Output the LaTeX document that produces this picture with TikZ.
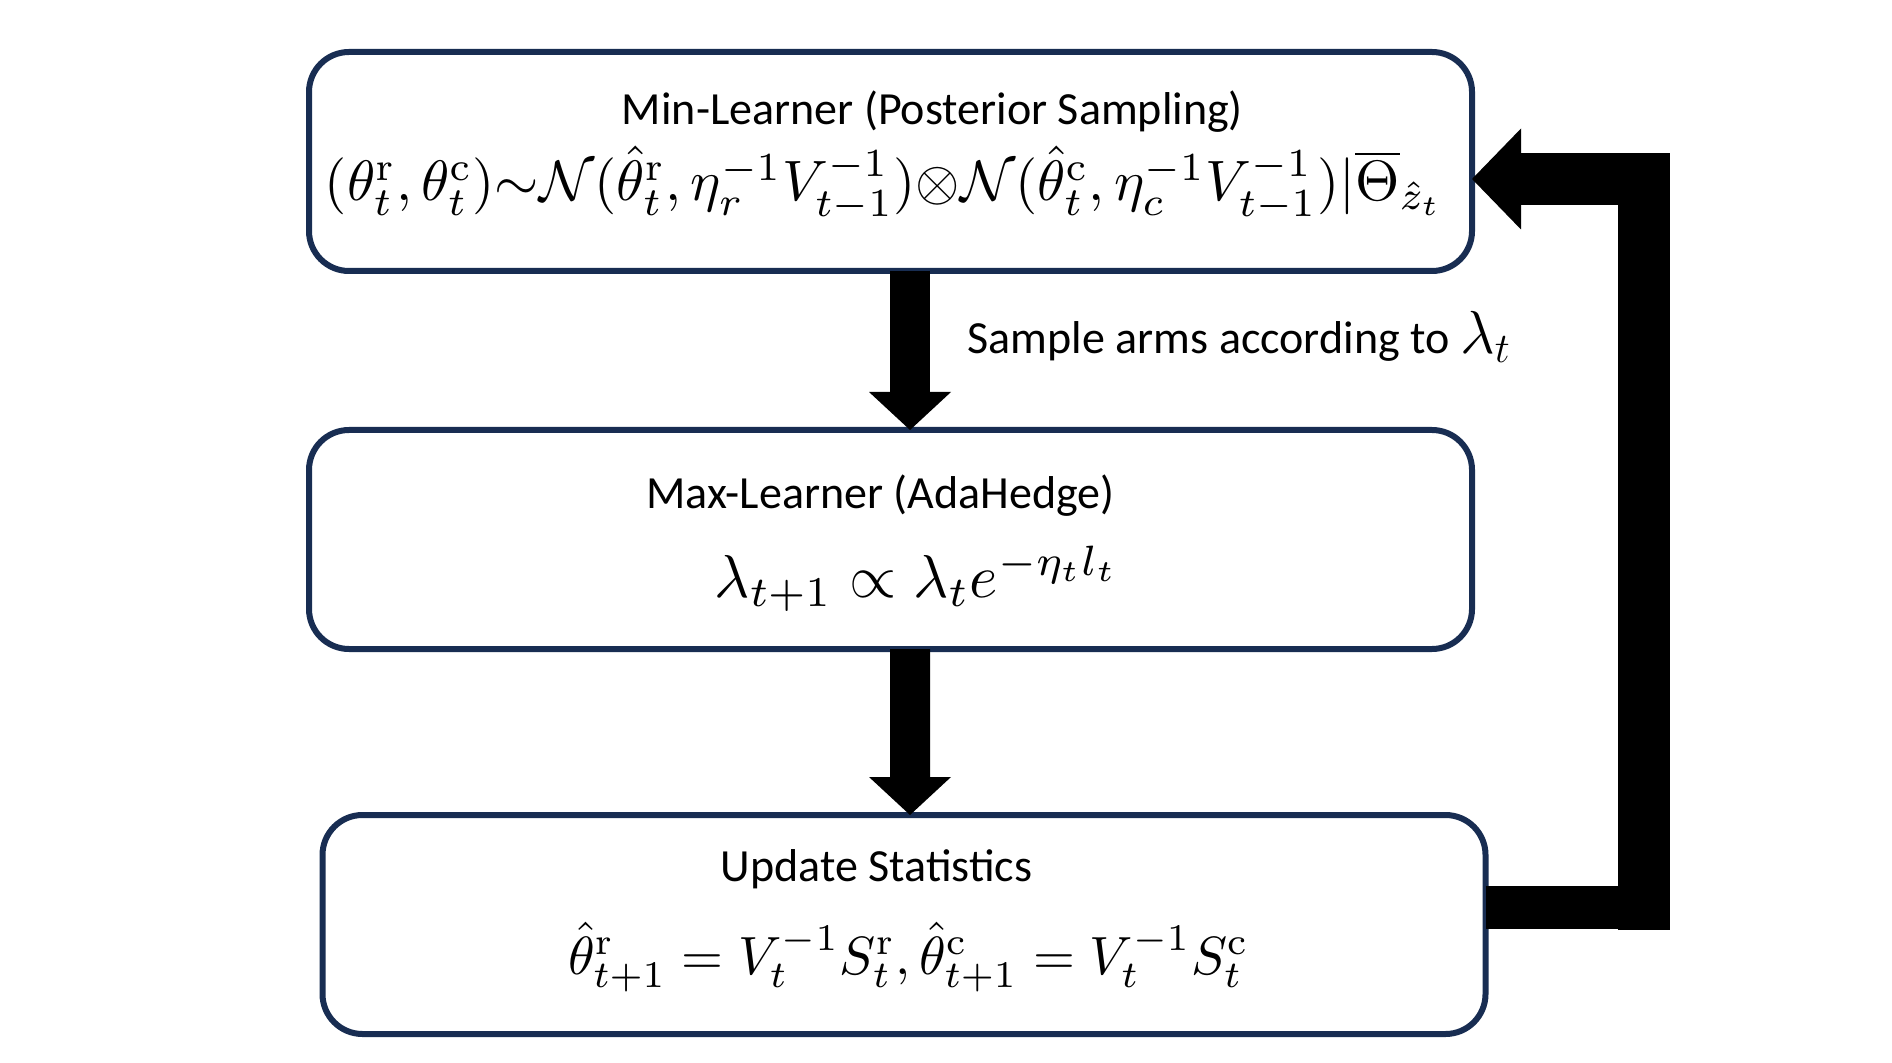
\documentclass[tikz,border=0pt]{standalone}
\usepackage{amsmath}
\usepackage{amssymb}
\usepackage{graphicx}
\usepackage[no-math]{fontspec}
\setmainfont{Carlito}
\usepackage{tikz}
\usetikzlibrary{arrows.meta,positioning,calc}
\definecolor{navy}{RGB}{24,45,82}
\tikzstyle{box} = [rectangle, draw=navy, line width=0.06cm, rounded corners=0.4cm, inner sep=0pt, outer sep=0pt, minimum width=11.63cm, minimum height=2.19cm]
\tikzstyle{title} = [anchor=base, inner sep=0pt, font=\fontsize{13.1}{15}\selectfont]
\tikzstyle{formula} = [anchor=base, inner sep=0pt]
\tikzstyle{flow} = [draw, line width=0.40cm, -{Triangle[width=0.82cm,length=0.38cm,line width=0pt]}]
\tikzstyle{feedback} = [draw, line width=0.52cm, -{Triangle[width=1.01cm,length=0.49cm,line width=0pt]}]

\begin{document}
\begin{tikzpicture}[node distance=0cm]
\useasboundingbox (0,0) rectangle (18.92,10.62);

\node [box] (min) at (8.905,9.005) {};
\node [box, below=1.59cm of min] (max) {};
\node [box, below=1.66cm of max, xshift=0.135cm] (upd) {};

\node [title] (mint) at ($(min)+(0.42,0.365)$) {Min-Learner (Posterior Sampling)};
\node [formula] (minf) at ($(min)+(-0.065,-0.395)$) {\resizebox{11.18cm}{!}{$(\theta^{\mathrm{r}}_t,\theta^{\mathrm{c}}_t){\sim}\mathcal{N}(\hat{\theta}^{\mathrm{r}}_t,\eta_r^{-1}V_{t-1}^{-1}){\otimes}\mathcal{N}(\hat{\theta}^{\mathrm{c}}_t,\eta_c^{-1}V_{t-1}^{-1})|\overline{\Theta}_{\hat{z}_t}$}};
\node [title] (maxt) at ($(max)+(-0.10,0.31)$) {Max-Learner (AdaHedge)};
\node [formula] (maxf) at ($(max)+(0.265,-0.58)$) {\resizebox{4.05cm}{!}{$\lambda_{t+1}\propto\lambda_t e^{-\eta_t l_t}$}};
\node [title] (updt) at ($(upd)+(-0.275,0.43)$) {Update Statistics};
\node [formula] (updf) at ($(upd)+(0.045,-0.495)$) {\resizebox{6.81cm}{!}{$\hat{\theta}^{\mathrm{r}}_{t+1}=V_t^{-1}S^{\mathrm{r}}_t,\hat{\theta}^{\mathrm{c}}_{t+1}=V_t^{-1}S^{\mathrm{c}}_t$}};
\node [title, anchor=base west] (samp) at ($(min.south)+(0.765,-0.825)$) {Sample arms according to {\fontsize{17.5}{20}\selectfont$\lambda_t$}};

\path [flow] ([xshift=0.195cm]min.south) -- ([xshift=0.195cm]max.north);
\path [flow] ([xshift=0.195cm]max.south) -- ([xshift=0.06cm]upd.north);

\coordinate (corner) at (16.44,1.32);
\path [draw, line width=0.43cm] ([yshift=0.17cm]upd.east) -- ([yshift=0.17cm]upd.east -| corner);
\path [feedback] (corner) |- ([yshift=-0.175cm]min.east);

\end{tikzpicture}
\end{document}
